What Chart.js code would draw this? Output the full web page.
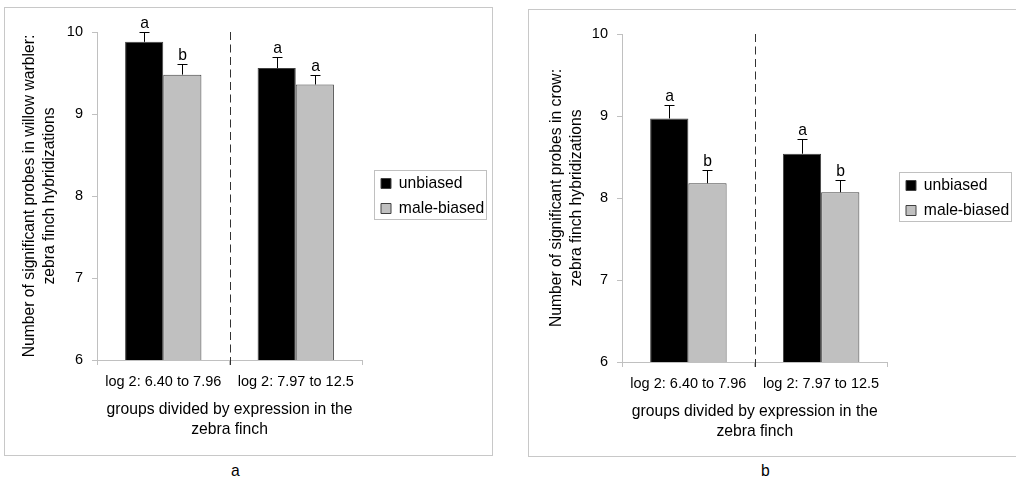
<!DOCTYPE html>
<html><head><meta charset="utf-8">
<script src="https://cdn.jsdelivr.net/npm/chart.js@4/dist/chart.umd.min.js"></script>
<style>
html,body{margin:0;padding:0;background:#fff;width:1016px;height:482px;overflow:hidden;font-family:"Liberation Sans",Arial,sans-serif;}
.panel{position:absolute;border:1px solid #c8c8c8;box-sizing:border-box;}
#pa{left:4px;top:7px;width:489px;height:449px;}
#pb{left:528px;top:9px;width:520px;height:448px;}
.panel canvas{position:absolute;left:0;top:0;}
.lab{position:absolute;font-size:15.7px;color:#000;line-height:18px;}
</style></head>
<body>
<div class="panel" id="pa"><canvas id="ca" width="487" height="447" style="width:487px;height:447px"></canvas></div>
<div class="panel" id="pb"><canvas id="cb" width="487" height="446" style="width:487px;height:446px"></canvas></div>
<div class="lab" style="left:231px;top:462px;">a</div>
<div class="lab" style="left:761px;top:462px;">b</div>
<script>
const categories = ['log 2: 6.40 to 7.96', 'log 2: 7.97 to 12.5'];
const seriesNames = ['unbiased', 'male-biased'];
const xTitle = ['groups divided by expression in the', 'zebra finch'];
const yMin = 6, yMax = 10, yStep = 1;

// panel a: willow warbler
const warblerTitle = ['Number of significant probes in willow warbler:', 'zebra finch hybridizations'];
const warblerUnbiased = [9.88, 9.56];
const warblerUnbiasedErr = [0.12, 0.13];
const warblerUnbiasedSig = ['a', 'a'];
const warblerMale = [9.48, 9.36];
const warblerMaleErr = [0.13, 0.12];
const warblerMaleSig = ['b', 'a'];

// panel b: crow
const crowTitle = ['Number of significant probes in crow:', 'zebra finch hybridizations'];
const crowUnbiased = [8.97, 8.54];
const crowUnbiasedErr = [0.17, 0.18];
const crowUnbiasedSig = ['a', 'a'];
const crowMale = [8.18, 8.07];
const crowMaleErr = [0.16, 0.15];
const crowMaleSig = ['b', 'b'];

const FONT = '"Liberation Sans", Arial, sans-serif';
Chart.defaults.font.family = FONT;
Chart.defaults.font.size = 14.5;
Chart.defaults.color = '#000';

const extras = {
  id: 'extras',
  afterLayout(chart, args, opts) {
    const L = chart.legend, ca = chart.chartArea;
    const w = L.width;
    L.left = opts.legendLeft; L.right = L.left + w;
    L.top = ca.top; L.bottom = ca.bottom; L.height = ca.bottom - ca.top;
  },
  afterDatasetsDraw(chart) {
    const ctx = chart.ctx, x = chart.scales.x, y = chart.scales.y, ca = chart.chartArea;
    ctx.save();
    // dashed dividers between categories
    ctx.strokeStyle = '#333'; ctx.lineWidth = 1; ctx.setLineDash([8, 4.5]);
    for (let i = 0; i < categories.length - 1; i++) {
      const px = Math.round((x.getPixelForValue(i) + x.getPixelForValue(i + 1)) / 2) + 0.5;
      ctx.beginPath(); ctx.moveTo(px, ca.top); ctx.lineTo(px, ca.bottom + 5); ctx.stroke();
    }
    ctx.setLineDash([]);
    // error bars and significance letters
    chart.data.datasets.forEach((ds, di) => {
      const meta = chart.getDatasetMeta(di);
      meta.data.forEach((bar, i) => {
        const cx = Math.round(bar.x) + 0.5;
        const top = Math.round(y.getPixelForValue(ds.data[i] + ds.errors[i])) + 0.5;
        const base = y.getPixelForValue(ds.data[i]);
        ctx.strokeStyle = '#000'; ctx.lineWidth = 1;
        ctx.beginPath();
        ctx.moveTo(cx, base); ctx.lineTo(cx, top);
        ctx.moveTo(cx - 5, top); ctx.lineTo(cx + 5, top);
        ctx.stroke();
        ctx.fillStyle = '#000';
        ctx.font = '15.7px ' + FONT;
        ctx.textAlign = 'center'; ctx.textBaseline = 'alphabetic';
        ctx.fillText(ds.sig[i], cx, top - 5);
      });
    });
    ctx.restore();
  },
  afterDraw(chart) {
    const ctx = chart.ctx;
    const hb = chart.legend.legendHitBoxes;
    if (hb && hb.length) {
      const l = Math.min(...hb.map(b => b.left)), t = Math.min(...hb.map(b => b.top));
      const r = Math.max(...hb.map(b => b.left + b.width)), bt = Math.max(...hb.map(b => b.top + b.height));
      ctx.save();
      ctx.strokeStyle = '#c0c0c0'; ctx.lineWidth = 1;
      const fl = Math.round(l - 7) + 0.5, ft = Math.round(t - 6) + 0.5;
      ctx.strokeRect(fl, ft, Math.round(r + 2) + 0.5 - fl, Math.round(bt + 3) + 0.5 - ft);
      ctx.restore();
    }
  }
};

function makeChart(id, yTitle, u, ue, us, m, me, ms, geo) {
  return new Chart(document.getElementById(id), {
    type: 'bar',
    data: {
      labels: categories,
      datasets: [
        { label: seriesNames[0], data: u, errors: ue, sig: us, backgroundColor: '#000000', borderColor: '#404040', borderWidth: 1 },
        { label: seriesNames[1], data: m, errors: me, sig: ms, backgroundColor: '#c0c0c0', borderColor: '#404040', borderWidth: 1 }
      ]
    },
    options: {
      responsive: false, animation: false, devicePixelRatio: 1,
      layout: { padding: { top: geo.top, right: geo.right, left: 0, bottom: 0 } },
      datasets: { bar: { categoryPercentage: 0.576, barPercentage: 1.0 } },
      plugins: {
        tooltip: { enabled: false },
        extras: { legendLeft: geo.legendLeft },
        legend: {
          position: 'right',
          labels: { boxWidth: 10, boxHeight: 10, padding: 9.3, color: '#000', font: { size: 15.7 } }
        }
      },
      scales: {
        x: {
          grid: { drawOnChartArea: false, tickLength: 5, color: '#c0c0c0', offset: true },
          border: { color: '#c0c0c0' },
          ticks: { padding: 8, maxRotation: 0, color: '#000', font: { size: 14.5 } },
          title: { display: true, text: xTitle, color: '#000', font: { size: 15.7, lineHeight: '20px' }, padding: { top: 0, bottom: geo.xtb } },
          afterFit(s) { s.height = geo.xh; }
        },
        y: {
          min: yMin, max: yMax,
          grid: { drawOnChartArea: false, tickLength: 5, color: '#c0c0c0' },
          border: { color: '#c0c0c0' },
          ticks: { stepSize: yStep, padding: 9, color: '#000', font: { size: 14.5 } },
          title: { display: true, text: yTitle, color: '#000', font: { size: 15.7, lineHeight: '20px' }, padding: { top: geo.ytt, bottom: 0 } },
          afterFit(s) { s.width = geo.yw; }
        }
      }
    },
    plugins: [extras]
  });
}

makeChart('ca', warblerTitle, warblerUnbiased, warblerUnbiasedErr, warblerUnbiasedSig, warblerMale, warblerMaleErr, warblerMaleSig,
  { top: 24, right: 11, xh: 95, xtb: 15, ytt: 15, yw: 92, legendLeft: 366.7 });
makeChart('cb', crowTitle, crowUnbiased, crowUnbiasedErr, crowUnbiasedSig, crowMale, crowMaleErr, crowMaleSig,
  { top: 24, right: 9, xh: 94, xtb: 14, ytt: 18, yw: 93, legendLeft: 367.7 });
</script>
</body></html>
